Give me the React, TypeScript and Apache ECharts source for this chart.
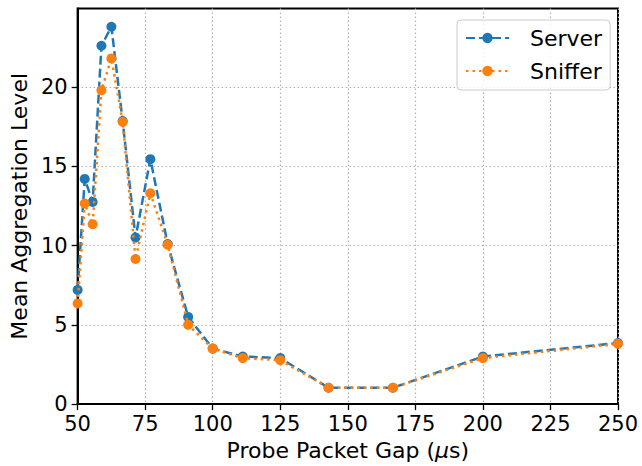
import React, { useEffect, useRef } from "react";
import * as echarts from "echarts";

const gapsUs = [50, 52.63, 55.56, 58.82, 62.5, 66.67, 71.43, 76.92, 83.33, 90.91, 100, 111.11, 125, 142.86, 166.67, 200, 250];
const serverValues = [7.2, 14.2, 12.75, 22.6, 23.8, 17.85, 10.5, 15.45, 10.1, 5.5, 3.5, 3.0, 2.9, 1.03, 1.03, 3.0, 3.85];
const snifferValues = [6.35, 12.65, 11.35, 19.8, 21.8, 17.8, 9.15, 13.3, 10.05, 5.0, 3.5, 2.9, 2.77, 1.03, 1.03, 2.9, 3.8];
const yTicks = [0, 5, 10, 15, 20];
const xTicks = [50, 75, 100, 125, 150, 175, 200, 225, 250];

const FONT = "DejaVu Sans";
const BLUE = "#1f77b4";
const ORANGE = "#ff7f0e";
const LABEL_SIZE = 22;
const TICK_SIZE = 21;

export default function App() {
  const ref = useRef<HTMLDivElement>(null);
  useEffect(() => {
    if (!ref.current) return;
    const chart = echarts.init(ref.current, undefined, { renderer: "svg" });
    const pairs = (ys: number[]) => gapsUs.map((x, i) => [x, ys[i]]);
    chart.setOption({
      animation: false,
      backgroundColor: "#ffffff",
      textStyle: { fontFamily: FONT },
      grid: {
        left: 77.5,
        right: 24,
        top: 8.5,
        bottom: 60.7,
        show: true,
        borderColor: "#000",
        borderWidth: 2,
        backgroundColor: "transparent",
      },
      legend: {
        orient: "vertical",
        left: 457,
        top: 20,
        padding: [7, 8, 8, 8],
        itemGap: 11,
        itemWidth: 43,
        itemHeight: 13,
        borderColor: "#cccccc",
        borderWidth: 1,
        borderRadius: 4,
        backgroundColor: "rgba(255,255,255,0.8)",
        textStyle: { fontFamily: FONT, fontSize: LABEL_SIZE, color: "#000", padding: [0, 4, 0, 16] },
        data: ["Server", "Sniffer"],
      },
      xAxis: {
        type: "value",
        min: 50,
        max: 250,
        interval: 25,
        name: "Probe Packet Gap ({i|μ}s)",
        nameLocation: "middle",
        nameGap: 33,
        nameTextStyle: {
          fontFamily: FONT,
          fontSize: LABEL_SIZE,
          color: "#000",
          rich: { i: { fontFamily: FONT, fontSize: LABEL_SIZE, fontStyle: "italic", color: "#000" } },
        },
        axisLine: { show: true, lineStyle: { color: "#000", width: 2 } },
        axisTick: { show: true, length: 6, lineStyle: { color: "#000", width: 1.3 } },
        axisLabel: { fontFamily: FONT, fontSize: TICK_SIZE, color: "#000", margin: 9, customValues: xTicks },
        splitLine: { show: true, lineStyle: { color: "#b0b0b0", width: 1.2, type: [1.5, 2.5] } },
      },
      yAxis: {
        type: "value",
        min: 0,
        max: 24.95,
        interval: 5,
        name: "Mean Aggregation Level",
        nameLocation: "middle",
        nameGap: 44,
        nameTextStyle: { fontFamily: FONT, fontSize: LABEL_SIZE, color: "#000" },
        axisLine: { show: true, lineStyle: { color: "#000", width: 2 } },
        axisTick: { show: true, length: 6, lineStyle: { color: "#000", width: 1.3 }, customValues: yTicks },
        axisLabel: { fontFamily: FONT, fontSize: TICK_SIZE, color: "#000", margin: 10, customValues: yTicks },
        splitLine: { show: true, lineStyle: { color: "#b0b0b0", width: 1.2, type: [1.5, 2.5] } },
      },
      series: [
        {
          name: "Server",
          type: "line",
          data: pairs(serverValues),
          symbol: "circle",
          symbolSize: 10,
          color: BLUE,
          itemStyle: { color: BLUE },
          lineStyle: { color: BLUE, width: 2.5, type: [9, 4] },
          z: 2,
        },
        {
          name: "Sniffer",
          type: "line",
          data: pairs(snifferValues),
          symbol: "circle",
          symbolSize: 10,
          color: ORANGE,
          itemStyle: { color: ORANGE },
          lineStyle: { color: ORANGE, width: 2.5, type: [2.5, 4] },
          z: 3,
        },
      ],
    });
    return () => chart.dispose();
  }, []);
  return <div ref={ref} style={{ position: "absolute", left: 0, top: 0, width: 642, height: 466 }} />;
}
